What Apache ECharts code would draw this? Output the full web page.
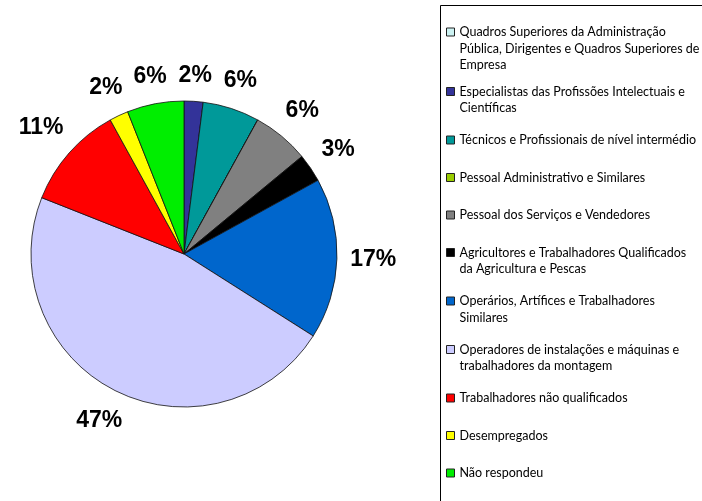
<!DOCTYPE html>
<html>
<head>
<meta charset="utf-8">
<script src="https://cdn.jsdelivr.net/npm/echarts@6/dist/echarts.min.js"></script>
<style>
  html, body { margin: 0; padding: 0; background: #fff; }
  #main { width: 702px; height: 501px; }
</style>
</head>
<body>
<div id="main"></div>
<script>
// categorias (ordem da legenda)
const categories = [
  'Quadros Superiores',
  'Especialistas',
  'Técnicos',
  'Pessoal Administrativo',
  'Pessoal dos Serviços',
  'Agricultores',
  'Operários',
  'Operadores',
  'Trabalhadores não qualificados',
  'Desempregados',
  'Não respondeu'
];
// texto da legenda, com as quebras de linha do original
const legendLabels = [
  'Quadros Superiores da Administração\nPública, Dirigentes e Quadros Superiores de\nEmpresa',
  'Especialistas das Profissões Intelectuais e\nCientíficas',
  'Técnicos e Profissionais de nível intermédio',
  'Pessoal Administrativo e Similares',
  'Pessoal dos Serviços e Vendedores',
  'Agricultores e Trabalhadores Qualificados\nda Agricultura e Pescas',
  'Operários, Artífices e Trabalhadores\nSimilares',
  'Operadores de instalações e máquinas e\ntrabalhadores da montagem',
  'Trabalhadores não qualificados',
  'Desempregados',
  'Não respondeu'
];
const values = [0, 2, 6, 0, 6, 3, 17, 47, 11, 2, 6];
const colors = ['#CCF2F2', '#333399', '#009999', '#99CC00', '#808080', '#000000',
  '#0066CC', '#CCCCFF', '#FF0000', '#FFFF00', '#00EE00'];

const CX = 184, CY = 254, R = 153;
const LINE = 16.5;
const total = values.reduce((a, b) => a + b, 0);

let myChart = echarts.init(document.getElementById('main'));

const pieData = categories.map((name, i) => ({
  name: name,
  value: values[i],
  itemStyle: { color: colors[i] },
  label: { show: values[i] > 0 }
}));

// rótulo centrado na direção radial do meio da fatia, fora do círculo
function placeLabel(params) {
  const i = params.dataIndex;
  let cum = 0;
  for (let k = 0; k < i; k++) cum += values[k];
  const a = 2 * Math.PI * (cum + values[i] / 2) / total;
  const dx = Math.sin(a), dy = -Math.cos(a);
  const w = params.labelRect.width, h = params.labelRect.height;
  const d = R + 13 + Math.abs(dx) * w / 2 + Math.abs(dy) * h / 2;
  return { x: CX + dx * d, y: CY + dy * d, align: 'center', verticalAlign: 'middle' };
}

// uma legenda por item: o quadrado fica alinhado com a primeira linha do texto
let legends = [];
let firstLine = 32;
categories.forEach((name, i) => {
  const n = legendLabels[i].split('\n').length;
  const h = (n - 1) * LINE + 8;
  legends.push({
    orient: 'vertical',
    left: 446,
    top: firstLine - LINE / 2,
    padding: 0,
    icon: n > 1 ? `path://M0 0L8 0L8 8L0 8Z M0 ${h}L0 ${h}` : 'rect',
    symbolKeepAspect: false,
    itemWidth: 8,
    itemHeight: h,
    selectedMode: false,
    itemStyle: { borderColor: '#222', borderWidth: 1 },
    textStyle: { fontFamily: 'Lato', fontSize: 12.5, lineHeight: LINE, color: '#000' },
    data: [name],
    formatter: () => legendLabels[i]
  });
  firstLine += 26.5 + 11 * n;
});

let option = {
  backgroundColor: '#fff',
  animation: false,
  graphic: [{
    type: 'rect',
    shape: { x: 440.5, y: 5.5, width: 320, height: 560 },
    style: { fill: 'none', stroke: '#000', lineWidth: 1 },
    silent: true
  }],
  legend: legends,
  series: [{
    type: 'pie',
    center: [CX, CY],
    radius: R,
    startAngle: 90,
    clockwise: true,
    avoidLabelOverlap: false,
    data: pieData,
    itemStyle: { borderColor: '#111', borderWidth: 0.8 },
    label: {
      position: 'outside',
      formatter: p => Math.round(p.percent) + '%',
      fontFamily: 'Liberation Sans',
      fontWeight: 'bold',
      fontSize: 23,
      lineHeight: 18,
      color: '#000'
    },
    labelLine: { show: false },
    labelLayout: placeLabel,
    emphasis: { disabled: true }
  }]
};

option && myChart.setOption(option);
</script>
</body>
</html>
